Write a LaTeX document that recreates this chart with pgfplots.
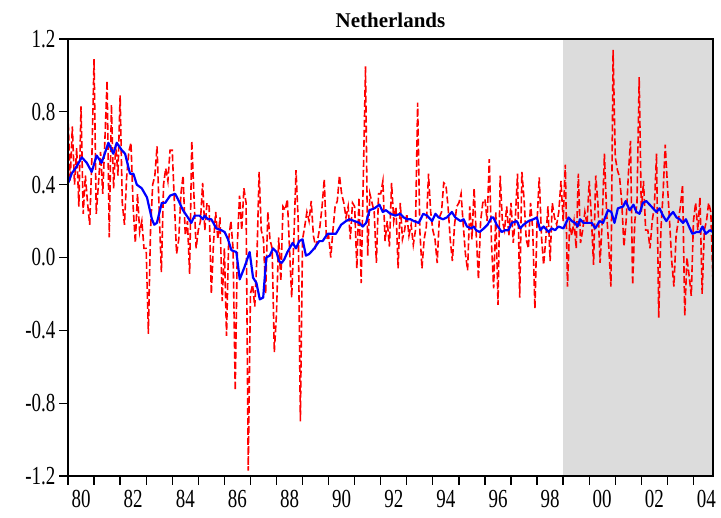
\documentclass[border=0pt]{standalone}
\usepackage{graphicx}
\usepackage{pgfplots}
\pgfplotsset{compat=1.18}
\usepackage{pgfplotstable}
\usepackage{fontspec}
\setmainfont{Liberation Serif}
\definecolor{shade}{RGB}{220,220,220}
\newcommand{\st}[1]{\scalebox{0.95}[1.3]{#1}}

\pgfplotstableread[row sep=\\]{
v\\
0.79\\0.42\\0.72\\0.40\\0.60\\0.28\\0.83\\0.24\\0.45\\0.30\\0.18\\0.55\\
1.09\\0.24\\0.40\\0.58\\0.35\\0.65\\0.97\\0.11\\0.84\\0.38\\0.62\\0.45\\
0.89\\0.30\\0.18\\0.44\\0.58\\0.63\\0.28\\0.08\\0.35\\0.14\\0.20\\0.05\\
0.05\\-0.42\\0.15\\0.40\\0.45\\0.61\\0.25\\-0.08\\0.40\\0.49\\0.42\\0.59\\
0.59\\0.30\\0.02\\0.10\\0.35\\0.45\\0.12\\0.20\\-0.09\\0.64\\0.34\\0.05\\
0.15\\0.20\\0.41\\0.15\\0.30\\0.28\\-0.20\\0.08\\0.25\\0.10\\0.22\\-0.24\\
0.05\\-0.43\\0.10\\0.20\\0.05\\-0.73\\0.08\\0.34\\0.15\\0.38\\0.30\\-1.17\\
-0.20\\-0.15\\-0.27\\0.00\\0.47\\0.15\\0.10\\-0.20\\0.25\\0.10\\0.05\\-0.52\\
-0.31\\0.11\\-0.13\\0.28\\0.26\\0.32\\0.05\\-0.22\\0.10\\0.48\\0.20\\-0.90\\
0.10\\0.17\\0.25\\0.20\\0.31\\0.12\\0.06\\0.10\\0.17\\0.28\\0.43\\0.10\\
0.12\\0.00\\0.15\\0.28\\0.31\\0.45\\0.35\\0.30\\0.22\\0.28\\0.10\\0.30\\
0.28\\-0.06\\0.33\\-0.14\\0.45\\1.05\\0.01\\0.35\\0.30\\0.25\\-0.03\\0.35\\
0.35\\0.42\\0.09\\0.20\\0.06\\0.41\\0.20\\0.28\\-0.06\\0.30\\0.10\\0.15\\
0.24\\0.12\\0.18\\0.07\\0.15\\0.85\\0.15\\-0.06\\0.10\\0.17\\0.46\\0.25\\
0.15\\0.10\\-0.03\\0.22\\0.25\\0.41\\0.40\\0.28\\0.10\\-0.02\\0.18\\0.28\\
0.30\\0.35\\0.18\\0.02\\-0.07\\0.28\\0.10\\0.38\\0.12\\-0.12\\0.20\\0.30\\
0.32\\0.20\\0.54\\0.08\\-0.17\\0.25\\-0.26\\0.45\\0.20\\0.15\\0.28\\0.12\\
0.30\\0.08\\0.22\\0.46\\-0.22\\0.47\\0.32\\0.10\\0.05\\0.30\\0.15\\-0.28\\
0.20\\0.44\\0.12\\-0.04\\0.10\\0.28\\-0.02\\0.30\\0.22\\0.18\\0.25\\0.42\\
0.20\\0.51\\-0.16\\0.18\\0.12\\0.20\\0.05\\0.46\\0.08\\0.15\\0.25\\0.18\\
0.42\\0.22\\-0.04\\0.45\\0.30\\-0.03\\0.20\\0.57\\0.25\\0.06\\-0.16\\1.14\\
0.55\\0.48\\0.44\\0.30\\0.06\\0.20\\0.45\\0.64\\-0.15\\0.20\\0.30\\0.99\\
0.25\\0.42\\0.15\\0.15\\0.05\\0.20\\0.28\\0.57\\-0.33\\0.15\\0.35\\0.62\\
0.40\\0.20\\-0.02\\-0.16\\0.12\\0.20\\0.28\\0.40\\-0.32\\0.00\\-0.10\\-0.21\\
0.20\\0.30\\0.15\\0.33\\-0.20\\0.15\\0.20\\0.30\\0.25\\-0.14\\
}\reddata

\begin{document}
\begin{tikzpicture}
\path[use as bounding box] (-68pt,-42pt) rectangle (653pt,476pt);
\begin{axis}[
  at={(0,0)}, anchor=south west,
  scale only axis,
  width=645pt, height=437pt,
  xmin=1980, xmax=2004.75,
  ymin=-1.2, ymax=1.2,
  axis line style={line width=1.6pt},
  tick align=outside,
  xtick={1980,...,2004},
  xticklabels={},
  major tick length=9pt,
  tick style={line width=1.3pt, black},
  extra x ticks={1980.5,1982.5,1984.5,1986.5,1988.5,1990.5,1992.5,1994.5,1996.5,1998.5,2000.5,2002.5,2004.5},
  extra x tick labels={\st{80},\st{82},\st{84},\st{86},\st{88},\st{90},\st{92},\st{94},\st{96},\st{98},\st{00},\st{02},\st{04}},
  extra x tick style={major tick length=0pt, xticklabel style={yshift=-11pt}},
  ytick={-1.2,-0.8,-0.4,0,0.4,0.8,1.2},
  yticklabels={\st{-1.2},\st{-0.8},\st{-0.4},\st{0.0},\st{0.4},\st{0.8},\st{1.2}},
  xtick pos=bottom, ytick pos=left,
  ticklabel style={font=\fontsize{20}{20}\selectfont},
  title={Netherlands},
  title style={at={(0.5,1)}, anchor=south, yshift=2pt, font=\bfseries\fontsize{21}{21}\selectfont},
  axis on top,
]
\addplot[fill=shade, draw=none] coordinates {(1999,-1.2) (2004.75,-1.2) (2004.75,1.2) (1999,1.2)} -- cycle;
\addplot[red, line width=1.6pt, dash pattern=on 7pt off 3pt] table[x expr=1980+\coordindex/12, y=v] {\reddata};
\addplot[blue, line width=2.2pt, line join=round] coordinates {
(1980.01,0.41) (1980.14,0.46) (1980.33,0.50) (1980.53,0.55) (1980.72,0.52) (1980.91,0.47)
(1981.10,0.56) (1981.29,0.52) (1981.55,0.63) (1981.74,0.57) (1981.87,0.63) (1982.06,0.59)
(1982.19,0.57) (1982.38,0.46) (1982.51,0.46) (1982.64,0.40) (1982.83,0.38) (1983.03,0.33)
(1983.22,0.21) (1983.31,0.18) (1983.41,0.19) (1983.60,0.30) (1983.73,0.30) (1983.92,0.34)
(1984.11,0.35) (1984.22,0.32) (1984.41,0.26) (1984.60,0.22) (1984.73,0.19) (1984.86,0.23)
(1985.05,0.23) (1985.18,0.21) (1985.24,0.23) (1985.37,0.21) (1985.50,0.21) (1985.69,0.16)
(1985.88,0.15) (1986.01,0.14) (1986.14,0.10) (1986.27,0.04) (1986.46,0.03) (1986.59,-0.12)
(1986.78,-0.05) (1986.97,0.03) (1987.10,-0.11) (1987.23,-0.14) (1987.36,-0.23) (1987.49,-0.22)
(1987.61,0.00) (1987.74,0.01) (1987.87,0.05) (1988.00,0.03) (1988.10,-0.02) (1988.20,-0.03)
(1988.30,-0.01) (1988.42,0.03) (1988.62,0.08) (1988.75,0.05) (1988.87,0.09) (1989.00,0.10)
(1989.13,0.01) (1989.26,0.02) (1989.45,0.05) (1989.64,0.09) (1989.77,0.09) (1989.96,0.13)
(1990.16,0.13) (1990.28,0.13) (1990.48,0.18) (1990.67,0.20) (1990.80,0.21) (1990.99,0.20)
(1991.18,0.19) (1991.31,0.17) (1991.44,0.19) (1991.57,0.26) (1991.76,0.27) (1991.95,0.29)
(1992.08,0.25) (1992.20,0.26) (1992.37,0.24) (1992.56,0.23) (1992.75,0.24) (1992.88,0.22)
(1993.01,0.21) (1993.14,0.21) (1993.27,0.20) (1993.46,0.19) (1993.63,0.24) (1993.78,0.23)
(1993.97,0.20) (1994.10,0.24) (1994.22,0.22) (1994.39,0.21) (1994.54,0.22) (1994.73,0.25)
(1994.86,0.22) (1995.06,0.20) (1995.18,0.21) (1995.31,0.17) (1995.47,0.16) (1995.57,0.17)
(1995.66,0.15) (1995.79,0.14) (1995.96,0.16) (1996.10,0.18) (1996.25,0.22) (1996.32,0.22)
(1996.45,0.18) (1996.64,0.14) (1996.77,0.15) (1996.90,0.15) (1997.03,0.19) (1997.22,0.20)
(1997.35,0.16) (1997.48,0.18) (1997.67,0.20) (1997.86,0.21) (1997.99,0.22) (1998.12,0.15)
(1998.25,0.17) (1998.44,0.14) (1998.56,0.16) (1998.69,0.15) (1998.82,0.17) (1999.01,0.16)
(1999.21,0.22) (1999.33,0.20) (1999.46,0.19) (1999.55,0.17) (1999.65,0.21) (1999.78,0.19)
(1999.97,0.19) (2000.10,0.19) (2000.23,0.16) (2000.40,0.20) (2000.53,0.19) (2000.72,0.26)
(2000.85,0.25) (2000.97,0.19) (2001.10,0.27) (2001.30,0.28) (2001.40,0.31) (2001.55,0.26)
(2001.70,0.29) (2001.81,0.25) (2001.93,0.24) (2002.06,0.30) (2002.19,0.31) (2002.32,0.29)
(2002.45,0.27) (2002.58,0.25) (2002.70,0.27) (2002.83,0.23) (2002.96,0.20) (2003.09,0.23)
(2003.22,0.25) (2003.35,0.22) (2003.47,0.21) (2003.60,0.19) (2003.71,0.21) (2003.83,0.17)
(2003.96,0.13) (2004.12,0.14) (2004.24,0.14) (2004.35,0.17) (2004.47,0.13) (2004.63,0.15)
(2004.75,0.14)
};
\end{axis}
\end{tikzpicture}
\end{document}
